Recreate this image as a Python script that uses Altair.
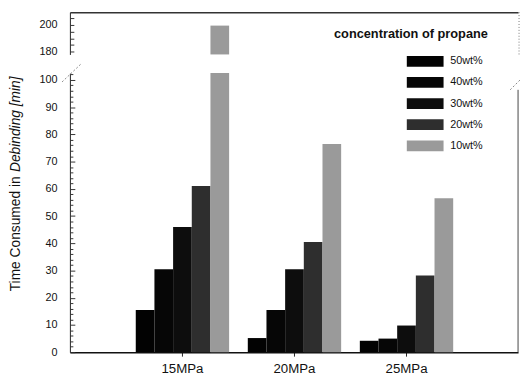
import altair as alt
import pandas as pd

pressures = ["15MPa", "20MPa", "25MPa"]
concentrations = ["50wt%", "40wt%", "30wt%", "20wt%", "10wt%"]
time_15mpa = [15.5, 30.5, 46.0, 61.0, 199.5]
time_20mpa = [5.2, 15.5, 30.5, 40.5, 76.5]
time_25mpa = [4.2, 5.0, 9.8, 28.2, 56.5]
bar_colors = ["#020202", "#060606", "#0d0d0d", "#2e2e2e", "#9a9a9a"]
legend_title = "concentration of propane"
y_title_regular = "Time Consumed in "
y_title_italic = "Debinding [min]"
lower_labels = list(range(0, 101, 10))
lower_minor = list(range(0, 103, 2))
upper_labels = [180, 200]
upper_minor = list(range(180, 210, 5))

rows = []
for p, vals in zip(pressures, [time_15mpa, time_20mpa, time_25mpa]):
    for c, v in zip(concentrations, vals):
        rows.append({"pressure": p, "concentration": c, "time": v})
df = pd.DataFrame(rows)
one = pd.DataFrame({"k": [0]})

W = 456
H_UP = 43
H_LO = 284
FONT = "Liberation Sans"

x_scale = alt.Scale(domain=pressures, paddingInner=1 / 6, paddingOuter=0.58, round=True)
xoff = alt.XOffset("concentration:N", sort=concentrations,
                   scale=alt.Scale(domain=concentrations, paddingInner=0,
                                   paddingOuter=0, round=True))
legend = alt.Legend(title=None, orient="none", legendX=356, legendY=44.5,
                    symbolType="M-3.4,-1H3.4V1H-3.4Z", symbolSize=121,
                    symbolStrokeWidth=0, labelOffset=20, labelFontSize=11,
                    labelFont=FONT, labelColor="#111", rowPadding=9.5,
                    padding=0, symbolOpacity=1)
color = alt.Color("concentration:N", sort=concentrations,
                  scale=alt.Scale(domain=concentrations, range=bar_colors),
                  legend=legend)

# ---------- upper panel ----------
up_scale = alt.Scale(domain=[177.8, 209.6], nice=False, zero=False, clamp=True)
up_bars = alt.Chart(df).transform_filter("datum.time > 177.8").mark_bar().encode(
    x=alt.X("pressure:N", sort=pressures, scale=x_scale,
            axis=alt.Axis(orient="top", labels=False, ticks=False, title=None,
                          domainColor="#333", domainWidth=1.5)),
    xOffset=xoff,
    y=alt.Y("time:Q", scale=up_scale,
            axis=alt.Axis(orient="left", values=upper_labels, ticks=False,
                          labelPadding=13, title=None, domainColor="#222",
                          domainWidth=1, labelFontSize=11, grid=False)),
    color=color,
)
up_ticks = alt.Chart(df).transform_filter("datum.time > 177.8").mark_point(opacity=0).encode(
    y=alt.Y("time:Q", scale=up_scale,
            axis=alt.Axis(orient="right", offset=-W, values=upper_minor,
                          labels=False, domain=False, tickSize=4,
                          tickColor="#333", title=None, grid=False)),
)
up_title = alt.Chart(pd.DataFrame({"t": [legend_title]})).mark_text(
    font=FONT, fontSize=13, fontWeight="bold", color="#111",
    align="center", baseline="middle"
).encode(text="t:N", x=alt.value(347), y=alt.value(22))
up_right = alt.Chart(one).mark_rule(color="#777", strokeDash=[1, 2], strokeWidth=1).encode(
    x=alt.value(W + 1), y=alt.value(0), y2=alt.value(45))

upper = alt.layer(up_bars, up_ticks, up_title, up_right).resolve_axis(
    y="independent").properties(width=W, height=H_UP)

# ---------- lower panel ----------
lo_scale = alt.Scale(domain=[0, 102.5], nice=False, zero=False, clamp=True)
lo_bars = alt.Chart(df).mark_bar().encode(
    x=alt.X("pressure:N", sort=pressures, scale=x_scale,
            axis=alt.Axis(orient="bottom", title=None, labelFontSize=13.5,
                          labelFont=FONT, tickSize=4, tickColor="#222",
                          domainColor="#111", domainWidth=1.5, labelPadding=6,
                          labelAngle=0, labelColor="#111")),
    xOffset=xoff,
    y=alt.Y("time:Q", scale=lo_scale,
            axis=alt.Axis(orient="left", values=lower_labels, ticks=False,
                          labelPadding=13, title=None, domainColor="#222",
                          domainWidth=1, labelFontSize=11, grid=False)),
    color=color,
)
lo_ticks = alt.Chart(df).transform_filter("datum.time <= 102.5").mark_point(opacity=0).encode(
    y=alt.Y("time:Q", scale=lo_scale,
            axis=alt.Axis(orient="right", offset=-W, values=lower_minor,
                          labels=False, domain=False,
                          tickSize={"condition": {"test": "datum.value % 10 === 0", "value": 5}, "value": 3},
                          tickColor="#333", title=None, grid=False)),
)
t1 = alt.Chart(pd.DataFrame({"t": [y_title_regular]})).mark_text(
    font=FONT, fontSize=14, color="#111", angle=270, align="left", baseline="middle"
).encode(text="t:N", x=alt.value(-55), y=alt.value(222))
t2 = alt.Chart(pd.DataFrame({"t": [y_title_italic]})).mark_text(
    font=FONT, fontSize=14, fontStyle="italic", color="#111", angle=270,
    align="left", baseline="middle"
).encode(text="t:N", x=alt.value(-55), y=alt.value(100.6))
slash_left = alt.Chart(one).mark_rule(color="#888", strokeDash=[2, 2], strokeWidth=1).encode(
    x=alt.value(-8), y=alt.value(9), x2=alt.value(12), y2=alt.value(-10))
slash_right = alt.Chart(one).mark_rule(color="#888", strokeDash=[2, 2], strokeWidth=1).encode(
    x=alt.value(448), y=alt.value(17), x2=alt.value(458), y2=alt.value(7))
lo_right = alt.Chart(one).mark_rule(color="#444", strokeWidth=1).encode(
    x=alt.value(W), y=alt.value(17), y2=alt.value(H_LO))

lower = alt.layer(lo_bars, lo_ticks, t1, t2, slash_left, slash_right, lo_right).resolve_axis(
    y="independent").properties(width=W, height=H_LO)

chart = alt.vconcat(upper, lower, spacing=19, bounds="flush").properties(
    padding={"left": 0, "top": 0, "right": 0, "bottom": 0}
).configure_view(stroke=None).configure_axis(
    labelFont=FONT, labelColor="#111")

chart.save("out.html", embed_options={"renderer": "svg", "actions": False})
